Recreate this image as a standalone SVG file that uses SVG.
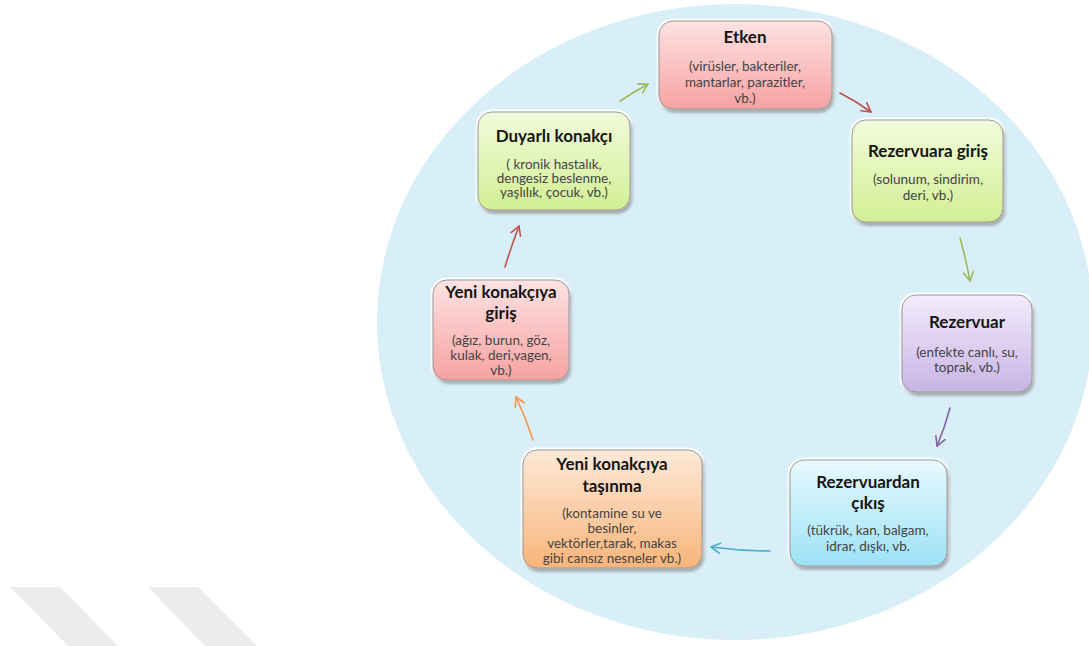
<svg xmlns="http://www.w3.org/2000/svg" width="1089" height="646" viewBox="0 0 1089 646">
  <style>
    .box { stroke: #9a9a9a; stroke-width: 1; filter: url(#sh); }
    .halo { fill: none; stroke: #ffffff; stroke-width: 5; stroke-opacity: 0.85; }
    .t { font-family: Lato, "Open Sans", "Liberation Sans", sans-serif; font-weight: 700; font-size: 17px; fill: #151515; text-anchor: middle; }
    .s { font-family: Lato, "Open Sans", "Liberation Sans", sans-serif; font-size: 13.5px; fill: #444444; text-anchor: middle; }
    .a { fill: none; stroke-width: 1.6; stroke-linecap: round; }
  </style>
  <defs>
    <filter id="sh" x="-10%" y="-10%" width="125%" height="130%">
      <feDropShadow dx="1.5" dy="3" stdDeviation="1.6" flood-color="#000" flood-opacity="0.35"/>
    </filter>
    <linearGradient id="gPink" x1="0" y1="0" x2="0" y2="1">
      <stop offset="0" stop-color="#fde3e3"/><stop offset="1" stop-color="#f7a2a2"/>
    </linearGradient>
    <linearGradient id="gGreen" x1="0" y1="0" x2="0" y2="1">
      <stop offset="0" stop-color="#f2fbdc"/><stop offset="1" stop-color="#d2ef94"/>
    </linearGradient>
    <linearGradient id="gPurple" x1="0" y1="0" x2="0" y2="1">
      <stop offset="0" stop-color="#f3ecfb"/><stop offset="1" stop-color="#c9b4e6"/>
    </linearGradient>
    <linearGradient id="gBlue" x1="0" y1="0" x2="0" y2="1">
      <stop offset="0" stop-color="#e8f9fe"/><stop offset="1" stop-color="#9de2f6"/>
    </linearGradient>
    <linearGradient id="gOrange" x1="0" y1="0" x2="0" y2="1">
      <stop offset="0" stop-color="#fde9d8"/><stop offset="1" stop-color="#f8b57a"/>
    </linearGradient>
    <marker id="mGreen" viewBox="-10 -6 12 12" refX="0" refY="0" markerWidth="12" markerHeight="12" markerUnits="userSpaceOnUse" orient="auto">
      <path d="M-9,-5 L0,0 L-9,5" fill="none" stroke="#9bbb59" stroke-width="1.6" stroke-linecap="round" stroke-linejoin="round"/>
    </marker>
    <marker id="mRed" viewBox="-10 -6 12 12" refX="0" refY="0" markerWidth="12" markerHeight="12" markerUnits="userSpaceOnUse" orient="auto">
      <path d="M-9,-5 L0,0 L-9,5" fill="none" stroke="#c0504d" stroke-width="1.6" stroke-linecap="round" stroke-linejoin="round"/>
    </marker>
    <marker id="mPurple" viewBox="-10 -6 12 12" refX="0" refY="0" markerWidth="12" markerHeight="12" markerUnits="userSpaceOnUse" orient="auto">
      <path d="M-9,-5 L0,0 L-9,5" fill="none" stroke="#8064a2" stroke-width="1.6" stroke-linecap="round" stroke-linejoin="round"/>
    </marker>
    <marker id="mBlue" viewBox="-10 -6 12 12" refX="0" refY="0" markerWidth="12" markerHeight="12" markerUnits="userSpaceOnUse" orient="auto">
      <path d="M-9,-5 L0,0 L-9,5" fill="none" stroke="#4bacc6" stroke-width="1.6" stroke-linecap="round" stroke-linejoin="round"/>
    </marker>
    <marker id="mOrange" viewBox="-10 -6 12 12" refX="0" refY="0" markerWidth="12" markerHeight="12" markerUnits="userSpaceOnUse" orient="auto">
      <path d="M-9,-5 L0,0 L-9,5" fill="none" stroke="#f79646" stroke-width="1.6" stroke-linecap="round" stroke-linejoin="round"/>
    </marker>
  </defs>

  <rect width="1089" height="646" fill="#ffffff"/>

  <!-- background decorations -->
  <g id="stripes" fill="#ececec">
    <polygon points="10,587 60,587 118,646 68,646"/>
    <polygon points="148,587 198,587 257,646 205,646"/>
  </g>
  <ellipse id="circle" cx="735" cy="322" rx="358" ry="318" fill="#d9eff7"/>

  <!-- connectors -->
  <g id="connectors">
    <path class="a" stroke="#9bbb59" d="M620,101 Q634,92 648,84" marker-end="url(#mGreen)"/>
    <path class="a" stroke="#c0504d" d="M840,93 Q856,101 871,112" marker-end="url(#mRed)"/>
    <path class="a" stroke="#9bbb59" d="M960,238 Q966,259 970,281" marker-end="url(#mGreen)"/>
    <path class="a" stroke="#8064a2" d="M950,408 Q945,427 937,446" marker-end="url(#mPurple)"/>
    <path class="a" stroke="#4bacc6" d="M770,551 Q741,551 711,547" marker-end="url(#mBlue)"/>
    <path class="a" stroke="#f79646" d="M533,440 Q526,418 516,397" marker-end="url(#mOrange)"/>
    <path class="a" stroke="#c0504d" d="M505,267 Q511,247 519,226" marker-end="url(#mRed)"/>
  </g>

  <g id="etken">
    <rect class="halo" x="659" y="21" width="173" height="88" rx="14"/>
    <rect class="box" x="659" y="21" width="173" height="88" rx="14" fill="url(#gPink)"/>
    <text class="t" x="745" y="43">Etken</text>
    <text class="s" x="745" y="71">(virüsler, bakteriler,</text>
    <text class="s" x="745" y="87">mantarlar, parazitler,</text>
    <text class="s" x="745" y="103">vb.)</text>
  </g>

  <g id="rezervuara-giris">
    <rect class="halo" x="852" y="120" width="151" height="102" rx="14"/>
    <rect class="box" x="852" y="120" width="151" height="102" rx="14" fill="url(#gGreen)"/>
    <text class="t" x="928" y="157">Rezervuara giriş</text>
    <text class="s" x="928" y="184">(solunum, sindirim,</text>
    <text class="s" x="928" y="200">deri, vb.)</text>
  </g>

  <g id="rezervuar">
    <rect class="halo" x="902" y="295" width="130" height="97" rx="14"/>
    <rect class="box" x="902" y="295" width="130" height="97" rx="14" fill="url(#gPurple)"/>
    <text class="t" x="967" y="328">Rezervuar</text>
    <text class="s" x="967" y="357">(enfekte canlı, su,</text>
    <text class="s" x="967" y="372">toprak, vb.)</text>
  </g>

  <g id="rezervuardan-cikis">
    <rect class="halo" x="790" y="460" width="157" height="106" rx="14"/>
    <rect class="box" x="790" y="460" width="157" height="106" rx="14" fill="url(#gBlue)"/>
    <text class="t" x="868" y="488">Rezervuardan</text>
    <text class="t" x="868" y="509">çıkış</text>
    <text class="s" x="868" y="535">(tükrük, kan, balgam,</text>
    <text class="s" x="868" y="551">idrar, dışkı, vb.</text>
  </g>

  <g id="yeni-konakciya-tasinma">
    <rect class="halo" x="523" y="450" width="179" height="118" rx="14"/>
    <rect class="box" x="523" y="450" width="179" height="118" rx="14" fill="url(#gOrange)"/>
    <text class="t" x="612" y="470">Yeni konakçıya</text>
    <text class="t" x="612" y="492">taşınma</text>
    <text class="s" x="612" y="518">(kontamine su ve</text>
    <text class="s" x="612" y="533">besinler,</text>
    <text class="s" x="612" y="548">vektörler,tarak, makas</text>
    <text class="s" x="612" y="563">gibi cansız nesneler vb.)</text>
  </g>

  <g id="yeni-konakciya-giris">
    <rect class="halo" x="433" y="280" width="136" height="100" rx="14"/>
    <rect class="box" x="433" y="280" width="136" height="100" rx="14" fill="url(#gPink)"/>
    <text class="t" x="501" y="298">Yeni konakçıya</text>
    <text class="t" x="501" y="319">giriş</text>
    <text class="s" x="501" y="345">(ağız, burun, göz,</text>
    <text class="s" x="501" y="360">kulak, deri,vagen,</text>
    <text class="s" x="501" y="375">vb.)</text>
  </g>

  <g id="duyarli-konakci">
    <rect class="halo" x="478" y="112" width="152" height="98" rx="14"/>
    <rect class="box" x="478" y="112" width="152" height="98" rx="14" fill="url(#gGreen)"/>
    <text class="t" x="554" y="142">Duyarlı konakçı</text>
    <text class="s" x="554" y="169">( kronik hastalık,</text>
    <text class="s" x="554" y="183">dengesiz beslenme,</text>
    <text class="s" x="554" y="197">yaşlılık, çocuk, vb.)</text>
  </g>
</svg>
